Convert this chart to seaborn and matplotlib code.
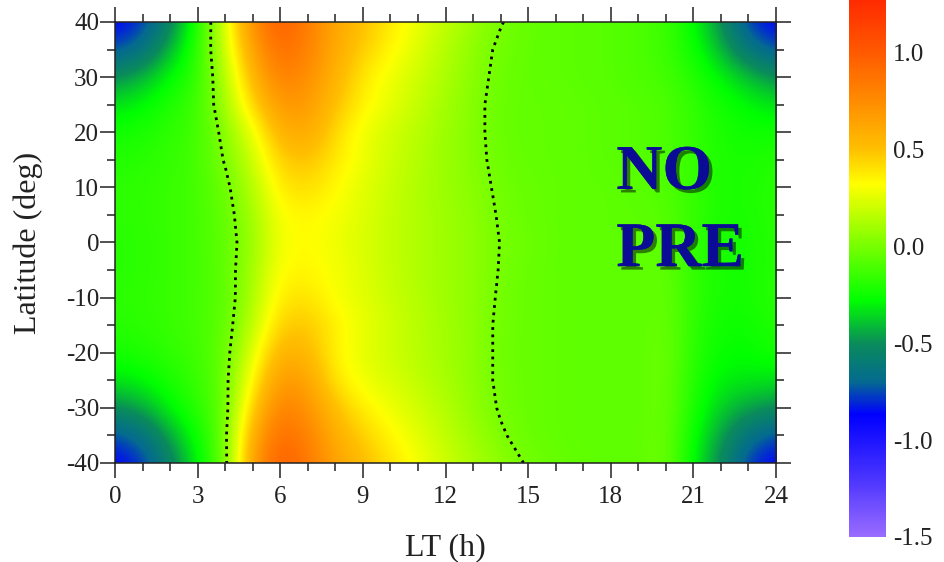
import numpy as np
import matplotlib
matplotlib.use("Agg")
import matplotlib.pyplot as plt
import matplotlib.patheffects as pe
from matplotlib.colors import LinearSegmentedColormap, Normalize
from matplotlib.ticker import MultipleLocator
import seaborn as sns

# Local time (h) and latitude (deg) grid nodes
local_time = np.arange(0, 25, 1)
latitude = [40, 35, 30, 25, 20, 15, 10, 5, 0, -5, -10, -15, -20, -25, -30, -35, -40]

# Field values along local time at each latitude (rows from 40N to 40S)
lat_p40 = [-0.88, -0.80, -0.55, -0.22, 0.24, 0.75, 1.00, 0.82, 0.62, 0.50, 0.38, 0.27, 0.17, 0.08, 0.006, -0.05, -0.06, -0.07, -0.08, -0.10, -0.14, -0.28, -0.50, -0.80, -0.88]
lat_p35 = [-0.76, -0.66, -0.42, -0.18, 0.20, 0.66, 0.92, 0.80, 0.60, 0.46, 0.34, 0.24, 0.14, 0.05, -0.02, -0.05, -0.06, -0.07, -0.08, -0.10, -0.14, -0.25, -0.42, -0.64, -0.76]
lat_p30 = [-0.50, -0.42, -0.28, -0.17, 0.14, 0.55, 0.82, 0.74, 0.56, 0.38, 0.28, 0.20, 0.12, 0.04, -0.03, -0.05, -0.06, -0.07, -0.08, -0.10, -0.12, -0.20, -0.30, -0.40, -0.50]
lat_p25 = [-0.33, -0.29, -0.21, -0.14, 0.10, 0.44, 0.70, 0.68, 0.50, 0.35, 0.26, 0.18, 0.10, 0.03, -0.04, -0.05, -0.05, -0.06, -0.07, -0.08, -0.10, -0.17, -0.24, -0.29, -0.33]
lat_p20 = [-0.24, -0.22, -0.17, -0.13, 0.04, 0.27, 0.58, 0.62, 0.42, 0.28, 0.21, 0.15, 0.08, 0.03, -0.04, -0.05, -0.05, -0.06, -0.07, -0.08, -0.10, -0.16, -0.22, -0.25, -0.24]
lat_p15 = [-0.20, -0.19, -0.16, -0.12, 0.01, 0.20, 0.46, 0.50, 0.38, 0.28, 0.20, 0.14, 0.08, 0.03, -0.03, -0.05, -0.05, -0.06, -0.07, -0.08, -0.10, -0.16, -0.22, -0.22, -0.20]
lat_p10 = [-0.18, -0.17, -0.15, -0.12, -0.03, 0.14, 0.38, 0.42, 0.33, 0.25, 0.19, 0.13, 0.08, 0.04, -0.02, -0.04, -0.05, -0.06, -0.06, -0.07, -0.09, -0.16, -0.22, -0.22, -0.18]
lat_p05 = [-0.18, -0.17, -0.15, -0.12, -0.05, 0.10, 0.32, 0.34, 0.30, 0.24, 0.18, 0.13, 0.09, 0.05, -0.01, -0.04, -0.05, -0.06, -0.06, -0.07, -0.08, -0.16, -0.22, -0.22, -0.18]
lat_p00 = [-0.19, -0.18, -0.15, -0.12, -0.06, 0.08, 0.30, 0.33, 0.28, 0.23, 0.18, 0.13, 0.09, 0.05, -0.002, -0.03, -0.05, -0.06, -0.06, -0.06, -0.06, -0.17, -0.23, -0.23, -0.19]
lat_m05 = [-0.19, -0.18, -0.15, -0.12, -0.06, 0.10, 0.33, 0.34, 0.30, 0.24, 0.18, 0.13, 0.09, 0.05, -0.005, -0.04, -0.05, -0.06, -0.06, -0.06, -0.05, -0.17, -0.23, -0.23, -0.19]
lat_m10 = [-0.18, -0.17, -0.15, -0.12, -0.07, 0.12, 0.38, 0.40, 0.30, 0.25, 0.19, 0.14, 0.09, 0.05, -0.012, -0.04, -0.05, -0.06, -0.06, -0.06, -0.04, -0.17, -0.23, -0.23, -0.18]
lat_m15 = [-0.19, -0.18, -0.15, -0.12, -0.06, 0.16, 0.46, 0.48, 0.36, 0.27, 0.21, 0.15, 0.10, 0.05, -0.02, -0.04, -0.05, -0.06, -0.06, -0.06, -0.03, -0.18, -0.25, -0.25, -0.20]
lat_m20 = [-0.23, -0.21, -0.17, -0.13, -0.05, 0.25, 0.58, 0.54, 0.34, 0.26, 0.20, 0.15, 0.10, 0.05, -0.02, -0.04, -0.05, -0.06, -0.06, -0.06, -0.02, -0.19, -0.27, -0.27, -0.23]
lat_m25 = [-0.33, -0.29, -0.22, -0.15, -0.04, 0.34, 0.70, 0.64, 0.38, 0.28, 0.23, 0.17, 0.11, 0.05, -0.02, -0.04, -0.05, -0.06, -0.06, -0.06, -0.02, -0.21, -0.31, -0.32, -0.33]
lat_m30 = [-0.50, -0.44, -0.29, -0.18, -0.05, 0.46, 0.82, 0.72, 0.50, 0.36, 0.28, 0.21, 0.14, 0.06, -0.01, -0.04, -0.05, -0.06, -0.06, -0.06, -0.02, -0.23, -0.37, -0.45, -0.50]
lat_m35 = [-0.76, -0.66, -0.44, -0.25, -0.03, 0.60, 0.92, 0.80, 0.58, 0.45, 0.34, 0.25, 0.17, 0.09, 0.012, -0.04, -0.05, -0.06, -0.06, -0.06, -0.02, -0.27, -0.46, -0.66, -0.76]
lat_m40 = [-0.88, -0.80, -0.56, -0.30, -0.04, 0.68, 1.00, 0.85, 0.64, 0.52, 0.40, 0.30, 0.20, 0.12, 0.05, -0.01, -0.04, -0.05, -0.06, -0.06, -0.01, -0.30, -0.52, -0.80, -0.88]

# Colour scale
cbar_ticks = [-1.5, -1.0, -0.5, 0.0, 0.5, 1.0]
vmin, vmax = -1.5, 1.27
cmap_stops = [(-1.5, "#9a6cff"), (-1.2, "#4a34ff"), (-0.87, "#0000ff"), (-0.7, "#046a90"),
              (-0.5, "#0a8c5a"), (-0.28, "#00ff00"), (0.32, "#ffff00"), (0.5, "#ffc000"),
              (0.75, "#ff8c00"), (1.0, "#ff5a00"), (1.27, "#ff2a00")]

sns.set_theme(style="ticks")
plt.rcParams["font.family"] = ["Liberation Serif", "DejaVu Serif"]
plt.rcParams["axes.unicode_minus"] = False

field = np.array([lat_p40, lat_p35, lat_p30, lat_p25, lat_p20, lat_p15, lat_p10, lat_p05, lat_p00,
                  lat_m05, lat_m10, lat_m15, lat_m20, lat_m25, lat_m30, lat_m35, lat_m40])
lat_arr = np.array(latitude)
order = np.argsort(lat_arr)
lat_sorted = lat_arr[order]
field_sorted = field[order]

cmap = LinearSegmentedColormap.from_list(
    "pre", [((v - vmin) / (vmax - vmin), c) for v, c in cmap_stops], N=512)
norm = Normalize(vmin=vmin, vmax=vmax)

fig = plt.figure(figsize=(9.45, 5.62), dpi=100)
ax = fig.add_axes([0.1217, 0.1762, 0.6995, 0.7847])
cax = fig.add_axes([0.8984, 0.0445, 0.0392, 0.9555])

dlt = 0.5 * (local_time[1] - local_time[0])
dlat = 0.5 * abs(latitude[0] - latitude[1])
img = ax.imshow(field_sorted, origin="lower", cmap=cmap, norm=norm, aspect="auto",
                interpolation="bicubic", interpolation_stage="data",
                extent=[local_time[0] - dlt, local_time[-1] + dlt,
                        lat_sorted[0] - dlat, lat_sorted[-1] + dlat])

# Zero line of the field
ax.contour(local_time, lat_sorted, field_sorted, levels=[0.0], colors="black",
           linewidths=2.0, linestyles="dotted")

ax.set_xlim(0, 24)
ax.set_ylim(-40, 40)
ax.xaxis.set_major_locator(MultipleLocator(3))
ax.xaxis.set_minor_locator(MultipleLocator(1))
ax.yaxis.set_major_locator(MultipleLocator(10))
ax.yaxis.set_minor_locator(MultipleLocator(5))
ax.tick_params(which="both", direction="out", top=True, right=True,
               width=1.1, color="#222222", labelsize=18, labelcolor="#222222")
ax.tick_params(which="major", length=10.5)
ax.tick_params(which="minor", length=5.8)
ax.tick_params(axis="y", pad=1)
ax.tick_params(axis="x", pad=6)
for s in ax.spines.values():
    s.set_linewidth(1.1)
    s.set_color("#222222")

ax.set_xlabel("LT (h)", fontsize=23, color="#222222", labelpad=18)
ax.set_ylabel("Latitude (deg)", fontsize=23, color="#222222")
ax.yaxis.set_label_coords(-0.109, 0.5)

shadow = [pe.withSimplePatchShadow(offset=(2.5, -2.5), shadow_rgbFace="black", alpha=0.5),
          pe.Normal()]
for word, lat_pos in (("NO", 9.7), ("PRE", -4.3)):
    ax.text(18.2, lat_pos, word, fontsize=46, fontweight="bold", color="#0b0b96",
            ha="left", va="baseline", path_effects=shadow)

cb = fig.colorbar(img, cax=cax, ticks=cbar_ticks)
cb.outline.set_visible(False)
cb.ax.tick_params(length=0, labelsize=18, labelcolor="#222222", pad=5)
cb.ax.set_yticklabels([f"{t:.1f}" for t in cbar_ticks])

fig.savefig("out.png", dpi=100)
